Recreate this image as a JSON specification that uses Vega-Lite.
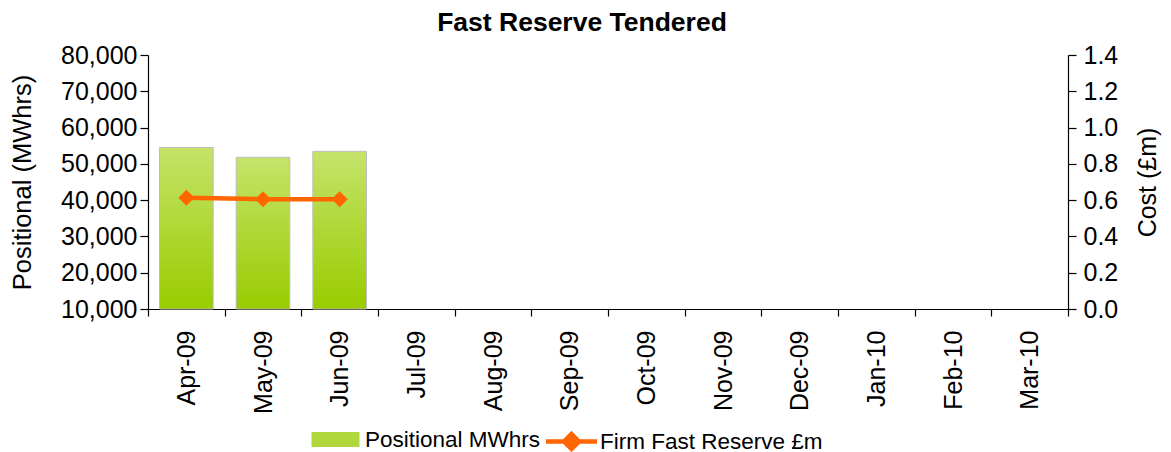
{
  "$schema": "https://vega.github.io/schema/vega-lite/v6.json",
  "autosize": "none",
  "width": 920,
  "height": 254,
  "padding": {"left": 148, "top": 55, "right": 103, "bottom": 143},
  "background": "white",
  "config": {
    "font": "Liberation Sans",
    "view": {"stroke": null},
    "axis": {"domainColor": "#000000", "tickColor": "#000000", "labelColor": "#000000", "titleColor": "#000000", "grid": false, "labelFont": "Liberation Sans", "titleFont": "Liberation Sans", "titleFontWeight": "normal", "domainWidth": 1.2, "tickWidth": 1.2},
    "legend": {"labelFont": "Liberation Sans", "labelFontSize": 22.5, "labelColor": "#000000"}
  },
  "title": {"text": "Fast Reserve Tendered", "fontSize": 26.5, "fontWeight": "bold", "font": "Liberation Sans", "color": "#000000", "offset": 7, "dx": -26},
  "data": {
    "values": [
      {"month": "Apr-09", "mwh": 54500, "cost": 0.613},
      {"month": "May-09", "mwh": 51800, "cost": 0.605},
      {"month": "Jun-09", "mwh": 53450, "cost": 0.605},
      {"month": "Jul-09", "mwh": null, "cost": null},
      {"month": "Aug-09", "mwh": null, "cost": null},
      {"month": "Sep-09", "mwh": null, "cost": null},
      {"month": "Oct-09", "mwh": null, "cost": null},
      {"month": "Nov-09", "mwh": null, "cost": null},
      {"month": "Dec-09", "mwh": null, "cost": null},
      {"month": "Jan-10", "mwh": null, "cost": null},
      {"month": "Feb-10", "mwh": null, "cost": null},
      {"month": "Mar-10", "mwh": null, "cost": null}
    ]
  },
  "encoding": {
    "x": {
      "field": "month", "type": "ordinal", "sort": null,
      "scale": {"domain": ["Apr-09","May-09","Jun-09","Jul-09","Aug-09","Sep-09","Oct-09","Nov-09","Dec-09","Jan-10","Feb-10","Mar-10"], "paddingInner": 0, "paddingOuter": 0},
      "axis": {"title": null, "labelAngle": 270, "labelFontSize": 25, "tickBand": "extent", "tickSize": 7, "labelPadding": 14, "labelAlign": "right", "labelBaseline": "middle"}
    }
  },
  "resolve": {"scale": {"y": "independent"}},
  "layer": [
    {
      "mark": {"type": "bar", "stroke": "#bdbdbd", "strokeWidth": 1, "width": {"band": 0.7},
        "fill": {"gradient": "linear", "x1": 0, "y1": 0, "x2": 0, "y2": 1, "stops": [{"offset": 0, "color": "#c5e36a"}, {"offset": 1, "color": "#99cc00"}]}},
      "encoding": {
        "y": {"field": "mwh", "type": "quantitative", "scale": {"domain": [10000, 80000], "zero": false, "nice": false},
          "axis": {"title": "Positional (MWhrs)", "format": ",d", "values": [10000,20000,30000,40000,50000,60000,70000,80000], "labelFontSize": 25, "titleFontSize": 25.5, "tickSize": 8, "labelPadding": 3, "titlePadding": 25, "orient": "left"}},
        "y2": {"datum": 10000}
      }
    },
    {
      "transform": [{"filter": "false"}],
      "mark": {"type": "bar"},
      "encoding": {
        "fill": {"datum": "Positional MWhrs", "type": "nominal",
          "scale": {"range": ["#b0d83c"]},
          "legend": {"orient": "none", "legendX": 172, "legendY": 369, "title": null, "symbolType": "M-1.6,-0.5H1.6V0.5H-1.6Z", "symbolSize": 900, "symbolStrokeColor": "#bdbdbd", "symbolStrokeWidth": 1, "labelOffset": 14, "labelLimit": 400,
            "encode": {"symbols": {"update": {"fill": {"value": {"gradient": "linear", "x1": 0, "y1": 0, "x2": 0, "y2": 1, "stops": [{"offset": 0, "color": "#c5e36a"}, {"offset": 1, "color": "#99cc00"}]}}}}}}}
      }
    },
    {
      "mark": {"type": "line", "strokeWidth": 4.5, "color": "#ff6600"},
      "encoding": {
        "y": {"field": "cost", "type": "quantitative", "scale": {"domain": [0, 1.4], "nice": false},
          "axis": {"title": "Cost (£m)", "format": ".1f", "values": [0,0.2,0.4,0.6,0.8,1.0,1.2,1.4], "labelFontSize": 25, "titleFontSize": 25, "tickSize": 8, "labelPadding": 7, "titlePadding": 43, "titleAngle": 270, "orient": "right"}},
        "stroke": {"datum": "Firm Fast Reserve £m", "type": "nominal", "scale": {"range": ["#ff6600"]},
          "legend": {"orient": "none", "legendX": 406, "legendY": 369, "title": null, "symbolType": "M-1.7,0H1.7M0,-0.5L0.5,0L0,0.5L-0.5,0Z", "symbolSize": 900, "symbolFillColor": "#ff6600", "symbolStrokeWidth": 4.5, "labelOffset": 11, "labelLimit": 400}}
      }
    },
    {
      "mark": {"type": "point", "shape": "diamond", "filled": true, "size": 260, "color": "#ff6600", "opacity": 1},
      "encoding": {
        "y": {"field": "cost", "type": "quantitative", "scale": {"domain": [0, 1.4], "nice": false}, "axis": null}
      }
    }
  ]
}
